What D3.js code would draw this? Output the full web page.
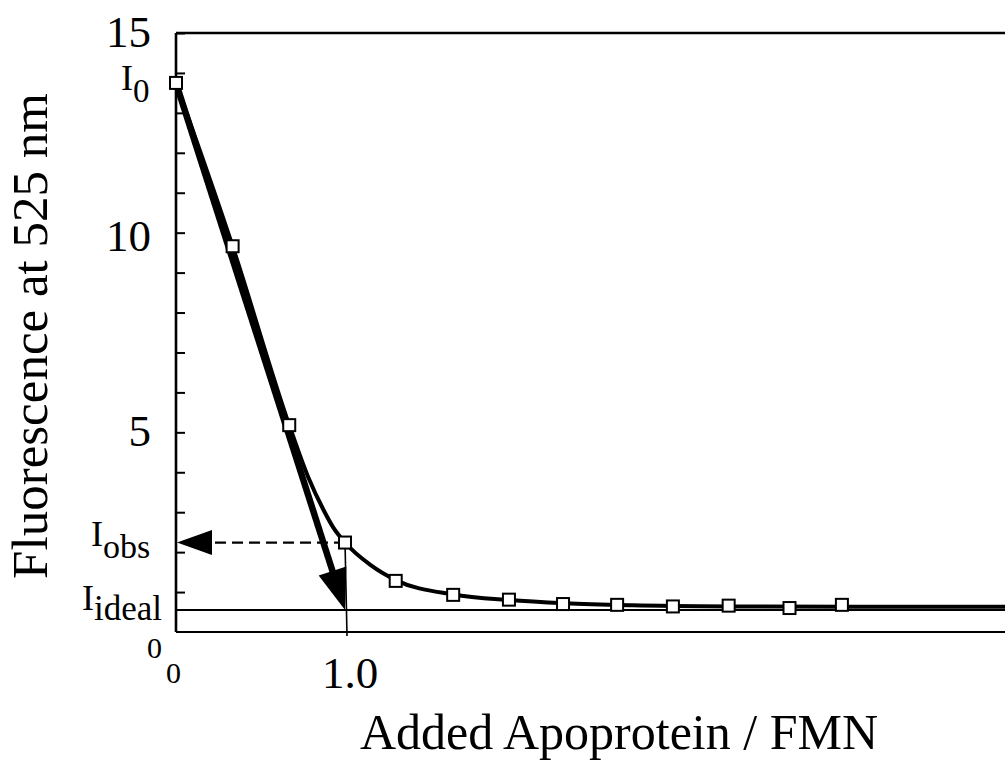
<!DOCTYPE html>
<html>
<head>
<meta charset="utf-8">
<script src="https://cdn.jsdelivr.net/npm/d3@7"></script>
<style>
  html, body { margin: 0; padding: 0; background: #fff; }
  svg { display: block; font-family: "Liberation Serif", "Times New Roman", serif; }
</style>
</head>
<body>
<svg id="chart" width="1005" height="762"></svg>
<script>
// Measured titration points: added apoprotein / FMN vs fluorescence at 525 nm
const ratio = [0, 0.335, 0.67, 1.0, 1.30, 1.64, 1.97, 2.29, 2.61, 2.94, 3.27, 3.63, 3.94];
const fluorescence = [13.75, 9.66, 5.18, 2.24, 1.28, 0.93, 0.81, 0.70, 0.68, 0.64, 0.66, 0.60, 0.68];

// Fitted binding curve, sampled along its drawn path
const fitRatio = [0, 0.335, 0.67, 0.78, 0.87, 0.93, 1.0, 1.15, 1.30, 1.64, 1.97, 2.30, 2.70, 3.30, 4.00, 4.95];
const fitValue = [13.75, 9.66, 5.18, 3.90, 3.08, 2.62, 2.24, 1.68, 1.30, 0.94, 0.80, 0.72, 0.67, 0.64, 0.63, 0.63];

// Reference levels
const I0 = 13.75;
const Iobs = 2.24;
const Iideal = 0.55;
const equivalence = 1.0;

const yTickValues = [5, 10, 15];
const yMinorTicks = [1, 2, 3, 4, 6, 7, 8, 9, 11, 12, 13, 14];

const svg = d3.select("#chart");

const x = d3.scaleLinear().domain([0, 4.905]).range([176, 1005]);
const y = d3.scaleLinear().domain([0, 15]).range([632, 33]);

const black = "#000";

// Frame: top border and bottom axis
svg.append("line").attr("x1", x(0)).attr("x2", 1010).attr("y1", y(15)).attr("y2", y(15))
  .attr("stroke", black).attr("stroke-width", 2.5);
svg.append("line").attr("x1", x(0)).attr("x2", 1010).attr("y1", y(0)).attr("y2", y(0))
  .attr("stroke", black).attr("stroke-width", 2.2);

// Left axis with inward ticks
const yAxis = d3.axisRight(y).tickValues(yMinorTicks.concat(yTickValues)).tickSize(9).tickFormat("");
const ya = svg.append("g").attr("transform", `translate(${x(0)},0)`).call(yAxis);
ya.select(".domain").attr("stroke", black).attr("stroke-width", 2.6).attr("d", `M0,${y(15)}V${y(0)}`);
ya.selectAll(".tick line").attr("stroke", black).attr("stroke-width", 2);

// Tick labels on the left axis
svg.append("g").selectAll("text").data(yTickValues).join("text")
  .attr("x", 151).attr("y", d => y(d) + 14 + (d === 10 ? 4 : 0))
  .attr("text-anchor", "end").attr("font-size", 45).attr("fill", black)
  .text(d => d);

// Ideal intensity level
svg.append("line").attr("x1", x(0)).attr("x2", 1010).attr("y1", y(Iideal)).attr("y2", y(Iideal))
  .attr("stroke", black).attr("stroke-width", 2);

// Thin drop line at the equivalence point
svg.append("line").attr("x1", x(equivalence)).attr("x2", x(equivalence) + 2)
  .attr("y1", y(Iobs)).attr("y2", y(0) + 4)
  .attr("stroke", black).attr("stroke-width", 1.6);

// Fitted curve
const curve = d3.line().x((d, i) => x(fitRatio[i])).y(d => y(d)).curve(d3.curveMonotoneX);
svg.append("path").attr("d", curve(fitValue)).attr("fill", "none")
  .attr("stroke", black).attr("stroke-width", 4);

// Initial-slope arrow from I0 to the ideal level at the equivalence point
function arrowHead(tx, ty, fx, fy, len, half) {
  const dx = tx - fx, dy = ty - fy, L = Math.hypot(dx, dy);
  const ux = dx / L, uy = dy / L;
  const bx = tx - ux * len, by = ty - uy * len;
  return `M${tx},${ty}L${bx + uy * half},${by - ux * half}L${bx - uy * half},${by + ux * half}Z`;
}
const ax0 = x(0), ay0 = y(I0), ax1 = x(equivalence), ay1 = y(Iideal);
{
  const L = Math.hypot(ax1 - ax0, ay1 - ay0);
  const ux = (ax1 - ax0) / L, uy = (ay1 - ay0) / L;
  svg.append("line").attr("x1", ax0).attr("y1", ay0)
    .attr("x2", ax1 - ux * 30).attr("y2", ay1 - uy * 30)
    .attr("stroke", black).attr("stroke-width", 6.5);
}
svg.append("path").attr("d", arrowHead(ax1, ay1, ax0, ay0, 41, 14.5)).attr("fill", black);

// Dashed arrow from the observed point back to the axis
svg.append("line").attr("x1", x(equivalence)).attr("x2", x(0) + 30)
  .attr("y1", y(Iobs)).attr("y2", y(Iobs))
  .attr("stroke", black).attr("stroke-width", 2.2).attr("stroke-dasharray", "11,6");
svg.append("path").attr("d", arrowHead(x(0) + 1, y(Iobs), x(1), y(Iobs), 35, 12.5)).attr("fill", black);

// Data points as open squares
svg.append("g").selectAll("rect").data(ratio).join("rect")
  .attr("x", d => x(d) - 6).attr("y", (d, i) => y(fluorescence[i]) - 6)
  .attr("width", 12).attr("height", 12)
  .attr("fill", "#fff").attr("stroke", black).attr("stroke-width", 2);

// Intensity labels with subscripts
function subLabel(xp, yp, main, sub, size, subSize, drop) {
  const t = svg.append("text").attr("x", xp).attr("y", yp).attr("fill", black).attr("font-size", size);
  t.append("tspan").text(main);
  t.append("tspan").attr("font-size", subSize).attr("dy", drop).text(sub);
}
subLabel(121, 90, "I", "0", 36, 33, 12);
subLabel(91, 546, "I", "obs", 36, 34, 12);
subLabel(82, 610, "I", "ideal", 36, 35, 10);

// Origin labels
svg.append("text").attr("x", 147).attr("y", 658).attr("font-size", 30).attr("fill", black).text("0");
svg.append("text").attr("x", 166).attr("y", 683).attr("font-size", 30).attr("fill", black).text("0");

// X tick label at the equivalence point
svg.append("text").attr("x", x(equivalence) + 5).attr("y", 688).attr("text-anchor", "middle")
  .attr("font-size", 45).attr("fill", black).text("1.0");

// Axis titles
svg.append("text").attr("x", 619).attr("y", 749).attr("text-anchor", "middle")
  .attr("font-size", 50).attr("fill", black).text("Added Apoprotein / FMN");
svg.append("text").attr("transform", "translate(47,336) rotate(-90)").attr("text-anchor", "middle")
  .attr("font-size", 51).attr("fill", black).text("Fluorescence at 525 nm");
</script>
</body>
</html>
